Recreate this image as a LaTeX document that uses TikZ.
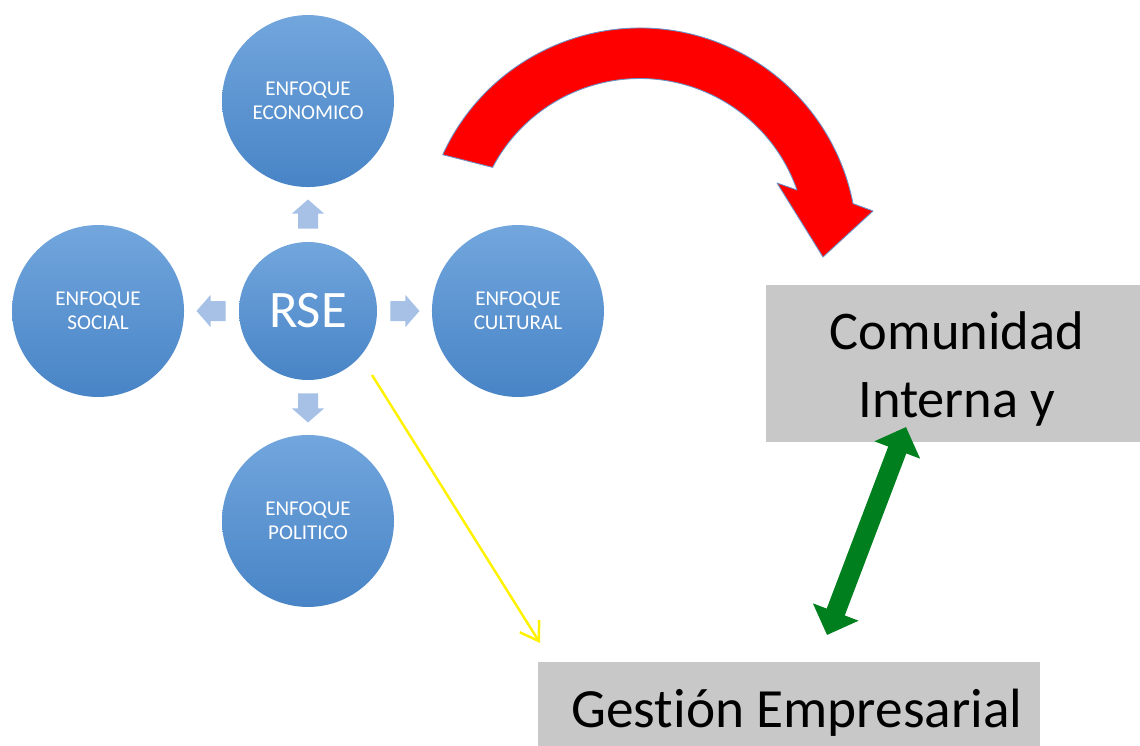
\documentclass[tikz,border=0pt]{standalone}
\usepackage{fontspec}
\setmainfont[Ligatures=NoCommon]{Carlito}
\usetikzlibrary{positioning,arrows.meta,calc}

\definecolor{azulA}{HTML}{72A6DD}
\definecolor{azulB}{HTML}{4884C6}
\definecolor{celeste}{HTML}{A6C1E5}
\definecolor{grisCaja}{HTML}{C8C8C8}
\definecolor{verde}{HTML}{007F1F}
\definecolor{bordeAzul}{HTML}{6A93C8}

\begin{document}
\begin{tikzpicture}[x=0.02cm, y=-0.02cm,
  enfoque/.style={circle, minimum size=3.44cm, inner sep=0pt, outer sep=0pt,
    top color=azulA, bottom color=azulB, text=white, align=center,
    font=\fontsize{12pt}{13.5pt}\selectfont},
  centro/.style={enfoque, minimum size=2.76cm, font=\fontsize{30pt}{36pt}\selectfont},
  caja/.style={rectangle, fill=grisCaja, inner sep=0pt, outer sep=0pt,
    align=center, font=\fontsize{31pt}{39pt}\selectfont},
  flechita/.style={fill=celeste},
  flecharoja/.style={fill=red, draw=bordeAzul, line width=0.5pt, line join=round},
  flechaverde/.style={draw=verde, line width=11pt,
    {Triangle[width=27pt,length=14pt]}-{Triangle[width=27pt,length=14pt]}},
  flechaamarilla/.style={draw=yellow, line width=1.4pt,
    -{Straight Barb[length=10pt,width=13pt]}}
]
\useasboundingbox (0,0) rectangle (1140,745);
\clip (0,0) rectangle (1140,745);

% los cinco circulos
\node[centro] (rse) at (308,311) {RSE};
\node[enfoque, above=1.1cm of rse] (eco) {ENFOQUE\\ECONOMICO};
\node[enfoque, left=1.1cm of rse] (social) {ENFOQUE\\SOCIAL};
\node[enfoque, right=1.1cm of rse] (cultural) {ENFOQUE\\CULTURAL};
\node[enfoque, below=1.1cm of rse] (politico) {ENFOQUE\\POLITICO};

% flechas pequenas
\foreach \dest/\ang/\a/\b in {eco/90/north/south, social/180/west/east,
    cultural/0/east/west, politico/270/south/north}
  \fill[flechita, shift={($(rse.\a)!.5!(\dest.\b)$)}, rotate=\ang]
    (-14,-10) -- (1,-10) -- (1,-16) -- (15,0) -- (1,16) -- (1,10) -- (-14,10) -- cycle;

% cajas
\node[caja, minimum width=7.64cm, minimum height=3.14cm, anchor=north west]
  (comunidad) at (766,285) {\rule{0pt}{28pt}Comunidad\\Interna y};
\node[caja, minimum width=10.04cm, minimum height=1.84cm, text height=27pt,
  font=\fontsize{31.5pt}{39pt}\selectfont] (gestion) at (789,708)
  {\hspace*{9pt}Gestión Empresarial};

% flecha roja curva
\coordinate (giro) at (640,245);
\filldraw[flecharoja] ($(giro)+(204.6:217)$)
  arc[start angle=204.6, end angle=349, radius=217]
  -- (873,211) -- (823,257) -- (777,183) -- (797,190)
  arc[start angle=340.7, end angle=207.8, radius=166.5] -- cycle;

% flecha verde
\coordinate (vA) at (827,635);
\coordinate (vB) at (906,427);
\draw[flechaverde] (vA) -- (vB);

% flecha amarilla
\coordinate (yA) at (372,375);
\coordinate (yB) at (540,643);
\draw[flechaamarilla] (yA) -- (yB);
\end{tikzpicture}
\end{document}
